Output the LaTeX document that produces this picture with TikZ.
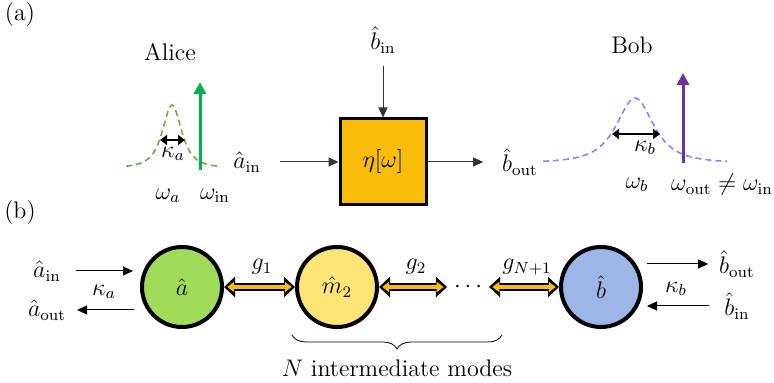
\documentclass[tikz,border=0pt]{standalone}
\usetikzlibrary{arrows.meta,decorations.pathreplacing}
\definecolor{boxorange}{HTML}{F9BC08}
\definecolor{alicegreen}{HTML}{00B050}
\definecolor{dashgreen}{HTML}{70AD47}
\definecolor{dashblue}{HTML}{7F8CFF}
\definecolor{bobpurple}{HTML}{7030A0}
\definecolor{modegreen}{HTML}{A0DC5A}
\definecolor{modeyellow}{HTML}{FFE575}
\definecolor{modeblue}{HTML}{9DB6E8}
\begin{document}
\begin{tikzpicture}[x=0.5pt, y=-0.5pt, >={Triangle[length=5pt,width=4.5pt]},
    every node/.style={font=\large},
    thin arrow/.style={->, draw=black!80, line width=0.5pt},
    width arrow/.style={<->, line width=1.1pt, >={Triangle[length=3.5pt,width=5pt]}},
    mode/.style={draw, circle, line width=2pt, minimum size=40pt, inner sep=0pt},
    coup/.style={draw=black, line width=4.2pt,
        {Triangle[length=5.5pt,width=10pt]}-{Triangle[length=5.5pt,width=10pt]},
        postaction={draw=boxorange, line width=1.8pt,
          {Triangle[length=3.5pt,width=5pt]}-{Triangle[length=3.5pt,width=5pt]},
          shorten <=1.6pt, shorten >=1.6pt}}]
    \useasboundingbox (0,0) rectangle (774,383);

    % (a) Alice, filter, Bob
    \node (lbla) at (20,15) {(a)};
    \node (alice) at (170,52) {Alice};
    \draw[dashgreen, dashed, dash pattern=on 3pt off 2pt, line width=0.8pt, domain=126:217, samples=80]
        plot (\x, {168-63/(1+((\x-172)/14.8)^2)^1.5});
    \coordinate (ka1) at (160,140);
    \coordinate (ka2) at (185,140);
    \draw[width arrow] (ka1) -- (ka2);
    \node (kapa) at (173,154) {$\kappa_a$};
    \coordinate (win0) at (200,170);
    \coordinate (win1) at (200,82);
    \draw[->, alicegreen, line width=1.5pt, >={Triangle[length=6pt,width=6pt]}] (win0) -- (win1);
    \node (wa) at (168,196) {$\omega_a$};
    \node (wi) at (215,196) {$\omega_{\mathrm{in}}$};

    \node (ain) at (247,162) {$\hat{a}_{\mathrm{in}}$};
    \node[draw, line width=1.5pt, fill=boxorange, minimum size=43pt] (eta) at (383,162) {$\eta[\omega]$};
    \node (bin) at (383,40) {$\hat{b}_{\mathrm{in}}$};
    \node (bout) at (520,162) {$\hat{b}_{\mathrm{out}}$};
    \draw[thin arrow, shorten <=6pt] (ain) -- (eta);
    \draw[thin arrow, shorten <=3pt] (bin) -- (eta);
    \draw[thin arrow, shorten >=6pt] (eta) -- (bout);

    \node (bob) at (632,45) {Bob};
    \draw[dashblue, dashed, dash pattern=on 3pt off 2pt, line width=0.8pt, domain=543:727, samples=100]
        plot (\x, {163-65/(1+((\x-635)/28.5)^2)^1.5});
    \coordinate (kb1) at (612,134);
    \coordinate (kb2) at (660,134);
    \draw[width arrow] (kb1) -- (kb2);
    \node (kapb) at (645,148) {$\kappa_b$};
    \coordinate (wout0) at (683,163);
    \coordinate (wout1) at (683,73);
    \draw[->, bobpurple, line width=1.5pt, >={Triangle[length=6pt,width=6pt]}] (wout0) -- (wout1);
    \node (wb) at (637,185) {$\omega_b$};
    \node (wo) at (722,185) {$\omega_{\mathrm{out}}\neq\omega_{\mathrm{in}}$};

    % (b) chain of modes
    \node (lblb) at (20,213) {(b)};
    \node[mode, fill=modegreen] (a) at (182,287) {$\hat{a}$};
    \node[mode, fill=modeyellow] (m2) at (337,287) {$\hat{m}_2$};
    \node (dots) at (468,287) {$\cdots$};
    \node[mode, fill=modeblue] (b) at (601,287) {$\hat{b}$};
    \draw[coup] (a) -- (m2);
    \draw[coup] (m2) -- (dots);
    \draw[coup] (dots) -- (b);
    \node (g1) at (262,267) {$g_1$};
    \node (g2) at (416,267) {$g_2$};
    \node (gn) at (527,267) {$g_{N+1}$};

    \node (ain2) at (47,271) {$\hat{a}_{\mathrm{in}}$};
    \node (aout) at (47,310) {$\hat{a}_{\mathrm{out}}$};
    \node (kapa2) at (104,292) {$\kappa_a$};
    \draw[thin arrow, black, shorten <=4pt, shorten >=3.5pt] (ain2.east) -- (ain2.east -| a.west);
    \draw[thin arrow, black, shorten <=3pt, shorten >=2pt] (aout.east -| a.west) -- (aout.east);

    \node (bout2) at (737,264) {$\hat{b}_{\mathrm{out}}$};
    \node (bin2) at (737,306) {$\hat{b}_{\mathrm{in}}$};
    \node (kapb2) at (676,289) {$\kappa_b$};
    \draw[thin arrow, black, shorten <=2pt, shorten >=2pt] (bout2.west -| b.east) -- (bout2.west);
    \draw[thin arrow, black, shorten <=4pt, shorten >=2pt] (bin2.west) -- (bin2.west -| b.east);

    \coordinate (brl) at (292,335);
    \coordinate (brr) at (502,335);
    \draw[decorate, decoration={brace, mirror, amplitude=7pt}] (brl) -- (brr);
    \node (nmodes) at (397,368) {$N$ intermediate modes};
\end{tikzpicture}
\end{document}
